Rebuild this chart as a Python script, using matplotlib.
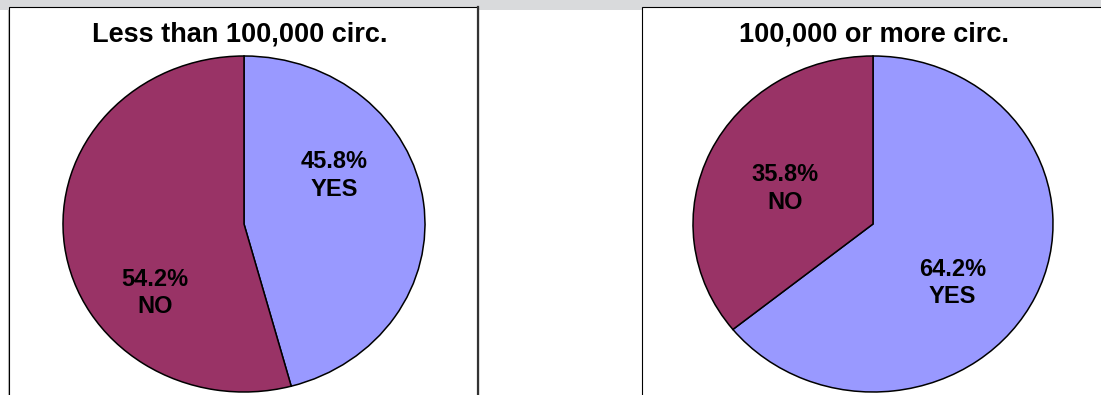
import matplotlib.pyplot as plt
import matplotlib.patches as patches

plt.rcParams["font.family"] = ["Liberation Sans", "DejaVu Sans"]

W, H = 1101, 395

YES_COLOR = "#9999FF"
NO_COLOR = "#993366"
BAND = "#D9DADC"

titles = ["Less than 100,000 circ.", "100,000 or more circ."]
categories = ["YES", "NO"]
shares_small = [45.8, 54.2]
shares_large = [64.2, 35.8]

# pie centre / radii in pixels, and label spots in pie units (per category)
PIES = [
    dict(cx=244, cy=224, rx=181, ry=168, title_x=240,
         spots={"YES": (0.50, 0.29), "NO": (-0.49, -0.41)}),
    dict(cx=873, cy=224, rx=180, ry=168, title_x=874,
         spots={"YES": (0.44, -0.35), "NO": (-0.49, 0.21)}),
]


def px_rect(x0, y0, x1, y1):
    """pixel box (top-left origin) -> figure fraction [l, b, w, h]"""
    return [x0 / W, 1 - y1 / H, (x1 - x0) / W, (y1 - y0) / H]


fig = plt.figure(figsize=(W / 100, H / 100), dpi=100)

# grey strip along the top, panels sit over it
band = patches.Rectangle((0, 1 - 10 / H), 1, 10 / H, transform=fig.transFigure,
                         facecolor=BAND, edgecolor="none", zorder=-3)
fig.add_artist(band)
fig.add_artist(plt.Line2D([7.5 / W, 7.5 / W], [0, 1 - 10 / H], transform=fig.transFigure,
                          color="#BBBBBB", lw=0.8, zorder=-3))
for x0, x1 in [(9, 478), (642, 1120)]:
    l, b, w, h = px_rect(x0, 7, x1, 420)
    panel = patches.Rectangle((l, b), w, h, transform=fig.transFigure,
                              facecolor="white", edgecolor="black", lw=0.8, zorder=-2)
    fig.add_artist(panel)
# heavier right edge on the first panel
fig.add_artist(plt.Line2D([478 / W, 478 / W], [0, 1 - 7 / H], transform=fig.transFigure,
                          color="#333333", lw=1.6, zorder=-1))

for spec, shares, title in zip(PIES, [shares_small, shares_large], titles):
    rx, ry, cx, cy = spec["rx"], spec["ry"], spec["cx"], spec["cy"]
    ax = fig.add_axes(px_rect(cx - 1.1 * rx, cy - 1.1 * ry, cx + 1.1 * rx, cy + 1.1 * ry))
    ax.pie(shares, colors=[YES_COLOR, NO_COLOR], startangle=90, counterclock=False,
           wedgeprops=dict(edgecolor="black", linewidth=1.1))
    ax.set_aspect("auto")
    ax.set_xlim(-1.1, 1.1)
    ax.set_ylim(-1.1, 1.1)
    ax.axis("off")
    for cat, val in zip(categories, shares):
        x, y = spec["spots"][cat]
        ax.text(x, y, f"{val:.1f}%\n{cat}", ha="center", va="center",
                fontsize=17, fontweight="bold", linespacing=1.25)
    fig.text(spec["title_x"] / W, 1 - 35 / H, title, ha="center", va="center",
             fontsize=19.5, fontweight="bold")

fig.savefig("out.png", dpi=100)
